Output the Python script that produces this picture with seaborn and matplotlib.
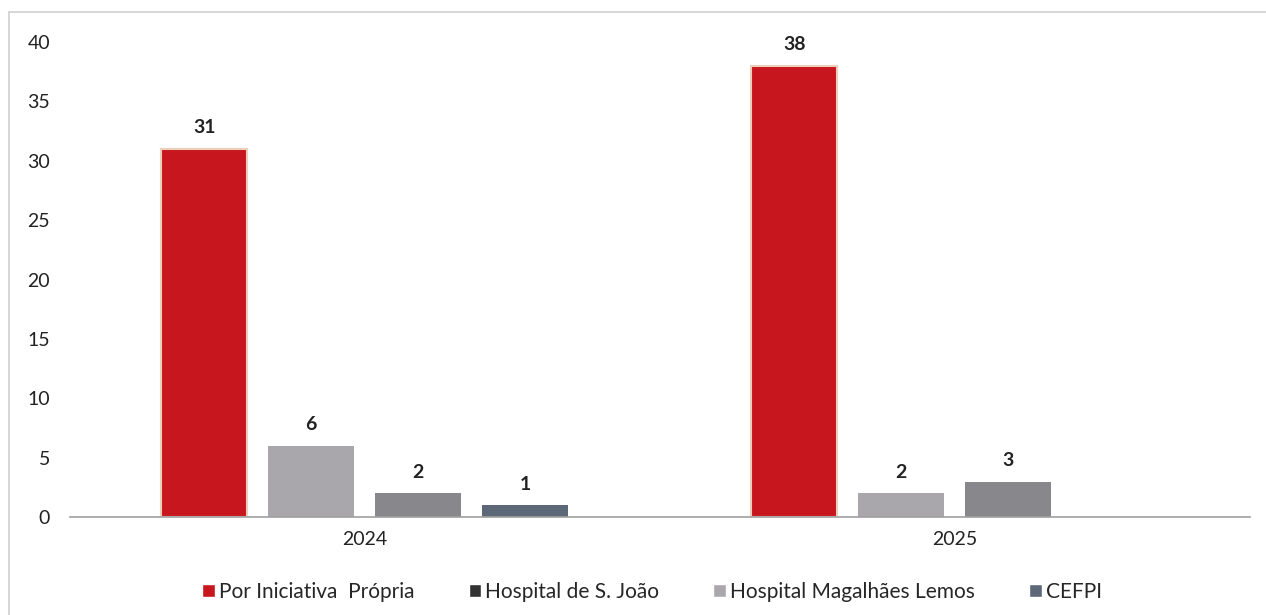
import matplotlib
matplotlib.use('Agg')
import matplotlib.pyplot as plt
import seaborn as sns
import pandas as pd
import numpy as np
from matplotlib.patches import Patch, Rectangle

# data
years = ["2024", "2025"]
series = ["Por Iniciativa  Própria", "Hospital Magalhães Lemos", "Hospital de S. João", "CEFPI"]
propria = [31, 38]
magalhaes = [6, 2]
sao_joao = [2, 3]
cefpi = [1, np.nan]

colors = {
    "Por Iniciativa  Própria": "#C8161E",
    "Hospital Magalhães Lemos": "#A9A7AC",
    "Hospital de S. João": "#88878C",
    "CEFPI": "#5C6878",
}
legend_order = ["Por Iniciativa  Própria", "Hospital de S. João", "Hospital Magalhães Lemos", "CEFPI"]

rows = []
for name, vals in zip(series, [propria, magalhaes, sao_joao, cefpi]):
    for y, v in zip(years, vals):
        rows.append({"ano": y, "origem": name, "n": v})
df = pd.DataFrame(rows)

sns.set_theme(style="white")
plt.rcParams['font.family'] = ['Lato', 'DejaVu Sans']

fig = plt.figure(figsize=(12.66, 6.15), dpi=100)
ax = fig.add_axes([0.055, 0.159, 0.932, 0.773])

sns.barplot(data=df, x="ano", y="n", hue="origem", hue_order=series,
            palette=colors, saturation=1, width=0.725, gap=0.2, ax=ax,
            legend=False, edgecolor="none")

# soft edge on the red bars
for c in ax.containers[:1]:
    for b in c:
        b.set_edgecolor("#EBCFB8")
        b.set_linewidth(1.5)

for c in ax.containers:
    labels = ["" if np.isnan(v) else f"{int(v)}" for v in c.datavalues]
    ax.bar_label(c, labels=labels, padding=9, fontsize=14, color="#222222",
                 fontweight="bold")

ax.set_ylim(0, 40)
ax.set_yticks(range(0, 41, 5))
ax.set_xlabel("")
ax.set_ylabel("")
ax.tick_params(axis="both", labelsize=14, colors="#222222", length=0)
ax.tick_params(axis="y", pad=14)
ax.tick_params(axis="x", pad=10)
for s in ["top", "right", "left"]:
    ax.spines[s].set_visible(False)
ax.spines["bottom"].set_color("#A0A0A0")
ax.spines["bottom"].set_linewidth(1.2)

handles = [Patch(facecolor=("#333333" if n == "Hospital de S. João" else colors[n]), label=n)
           for n in legend_order]
fig.legend(handles=handles, loc="center", bbox_to_anchor=(0.515, 0.038), ncol=4,
           frameon=False, fontsize=15, handlelength=0.6, handleheight=0.6,
           handletextpad=0.2, columnspacing=2.6)

# faint frame around the chart
fig.patches.append(Rectangle((0.007, -0.01), 1.0, 0.99, transform=fig.transFigure,
                             fill=False, edgecolor="#D0D0D0", linewidth=1.2))

fig.savefig("out.png", dpi=100)
